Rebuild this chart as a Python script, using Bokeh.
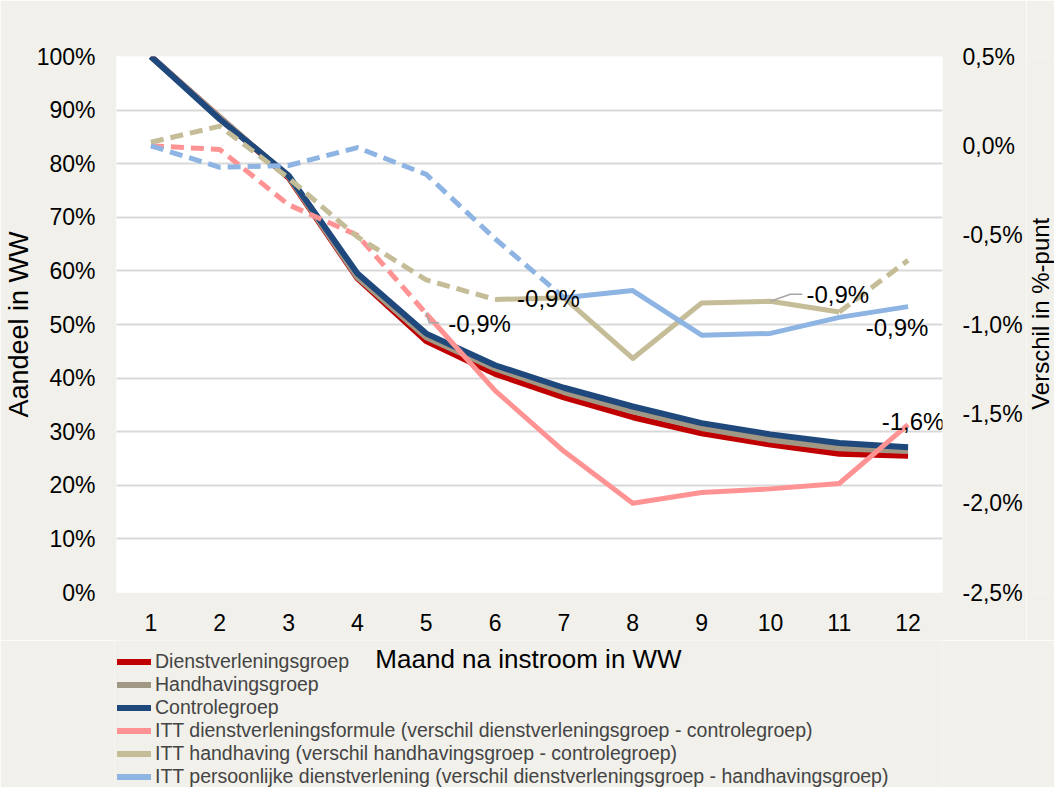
import math
from bokeh.plotting import figure
from bokeh.layouts import column, row
from bokeh.models import (Range1d, LinearAxis, FixedTicker, NumeralTickFormatter,
                          CustomJSTickFormatter, Legend, LegendItem, ColumnDataSource, Label)
from bokeh.embed import file_html
from bokeh.resources import INLINE
from bokeh.core.properties import value

# ---------------- data ----------------
months = list(range(1, 13))
dienstverleningsgroep = [1.000, 0.886, 0.774, 0.586, 0.469, 0.408, 0.364, 0.327, 0.297, 0.276, 0.259, 0.255]
handhavingsgroep      = [1.000, 0.886, 0.776, 0.588, 0.476, 0.418, 0.374, 0.338, 0.307, 0.285, 0.269, 0.264]
controlegroep         = [1.000, 0.883, 0.778, 0.595, 0.483, 0.424, 0.382, 0.347, 0.316, 0.295, 0.279, 0.271]

# verschil in %-punt (right axis)
itt_dienst  = [0.00, -0.02, -0.33, -0.50, -0.94, -1.37, -1.71, -2.00, -1.94, -1.92, -1.89, -1.56]
itt_handh   = [0.02, 0.11, -0.18, -0.51, -0.75, -0.86, -0.85, -1.19, -0.88, -0.87, -0.93, -0.64]
itt_persoon = [0.00, -0.12, -0.11, -0.01, -0.16, -0.52, -0.85, -0.81, -1.06, -1.05, -0.96, -0.90]

# month range drawn solid (rest dashed)
pink_solid = (5, 12)
tan_solid = (6, 11)
blue_solid = (7, 12)

left_ticks = [0, 0.1, 0.2, 0.3, 0.4, 0.5, 0.6, 0.7, 0.8, 0.9, 1.0]
right_ticks = [-2.5, -2.0, -1.5, -1.0, -0.5, 0.0, 0.5]

names = ["Dienstverleningsgroep", "Handhavingsgroep", "Controlegroep",
         "ITT dienstverleningsformule (verschil dienstverleningsgroep - controlegroep)",
         "ITT handhaving (verschil handhavingsgroep - controlegroep)",
         "ITT persoonlijke dienstverlening (verschil dienstverleningsgroep - handhavingsgroep)"]

x_title = "Maand na instroom in WW"
y_title = "Aandeel in WW"
y2_title = "Verschil in %-punt"

# ---------------- style ----------------
FONT = "Liberation Sans"
BG = "#F1F0EA"
RED, GRAY, NAVY = "#C00000", "#A19785", "#1F497D"
PINK, TAN, LBLUE = "#FF9393", "#C4BD97", "#8DB4E2"
colors = [RED, GRAY, NAVY, PINK, TAN, LBLUE]
DASH = "13 7"
W = 1054
W3 = 28                      # strip holding the right-axis title
BL, BT, BB = 114, 56, 48
FW, FH = 828, 536
BR = W - W3 - BL - FW
H1 = BT + FH + BB
H2 = 787 - H1

p = figure(width=W - W3, height=H1, output_backend="svg", toolbar_location=None,
           x_range=Range1d(0.5, 12.5), y_range=Range1d(0, 1),
           min_border_left=BL, min_border_right=BR, min_border_top=BT, min_border_bottom=BB)
p.extra_y_ranges = {"diff": Range1d(-2.5, 0.5)}
p.border_fill_color = BG
p.background_fill_color = "white"
p.outline_line_color = None

p.xaxis.ticker = FixedTicker(ticks=months)
p.yaxis.ticker = FixedTicker(ticks=left_ticks)
p.yaxis.formatter = NumeralTickFormatter(format="0%")
p.yaxis.axis_label = y_title
p.yaxis.axis_label_standoff = 0

rax = LinearAxis(y_range_name="diff", ticker=FixedTicker(ticks=right_ticks),
                 formatter=CustomJSTickFormatter(code="return tick.toFixed(1).replace('.', ',') + '%';"))
p.add_layout(rax, "right")

for ax in [p.xaxis[0], p.yaxis[0], rax]:
    ax.axis_line_color = None
    ax.major_tick_line_color = None
    ax.minor_tick_line_color = None
    ax.major_tick_out = 0
    ax.major_tick_in = 0
    ax.minor_tick_out = 0
    ax.minor_tick_in = 0
    ax.major_label_text_font = FONT
    ax.major_label_text_font_size = "23px"
    ax.major_label_text_color = "black"
    ax.major_label_standoff = 21
    ax.axis_label_text_font = FONT
    ax.axis_label_text_font_size = "27px"
    ax.axis_label_text_font_style = "normal"
    ax.axis_label_text_color = "black"
rax.major_label_standoff = 20

p.xgrid.grid_line_color = None
p.ygrid.grid_line_color = "#D9D9D9"
p.ygrid.grid_line_width = 2

# main series
for series, color in [(dienstverleningsgroep, RED), (handhavingsgroep, GRAY), (controlegroep, NAVY)]:
    p.line(months, series, line_color=color, line_width=6, line_join="round")


def split(series, solid):
    a, b = solid
    segs = []
    if a > 1:
        segs.append((months[:a], series[:a], True))
    segs.append((months[a - 1:b], series[a - 1:b], False))
    if b < 12:
        segs.append((months[b - 1:], series[b - 1:], True))
    return segs


for series, solid, color in [(itt_dienst, pink_solid, PINK), (itt_handh, tan_solid, TAN),
                             (itt_persoon, blue_solid, LBLUE)]:
    for xs, ys, dashed in split(series, solid):
        p.line(xs, ys, y_range_name="diff", line_color=color, line_width=5,
               line_join="round", line_dash=DASH if dashed else "solid")

# data labels (month, series, pixel offsets)
px_x = FW / 12.0
px_y = FH / 3.0
lab_idx = [5, 6, 10, 12, 12]
lab_series = [itt_dienst, itt_handh, itt_handh, itt_persoon, itt_dienst]
lab_dx = [22, 22, 36, -11, 5]
lab_dy = [10, -1, -7, 21, -3]
lab_align = ["left", "left", "left", "center", "center"]
lab_y = [s[i - 1] for i, s in zip(lab_idx, lab_series)]
lab_txt = [("%.1f%%" % v).replace(".", ",") for v in lab_y]
src = ColumnDataSource(dict(x=lab_idx, y=lab_y, t=lab_txt, dx=lab_dx, dy=lab_dy, al=lab_align))
p.text(x="x", y="y", text="t", x_offset="dx", y_offset="dy", text_align="al",
       text_baseline="middle", y_range_name="diff", source=src,
       text_font=value(FONT), text_font_size="24px", text_color="black")

# leader lines (pink month 5, tan month 10)
x5, y5 = 5, itt_dienst[4]
p.line([x5, x5 + 3 / px_x, x5 + 13 / px_x], [y5 + 1 / px_y, y5 - 9 / px_y, y5 - 9 / px_y],
       y_range_name="diff", line_color="#A6A6A6", line_width=1.5)
x10, y10 = 10, itt_handh[9]
p.line([x10, x10 + 20 / px_x, x10 + 32 / px_x], [y10, y10 + 7 / px_y, y10 + 7 / px_y],
       y_range_name="diff", line_color="#A6A6A6", line_width=1.5)

# ---------------- right strip: right-axis title ----------------
p3 = figure(width=W3, height=H1, output_backend="svg", toolbar_location=None,
            x_range=Range1d(0, W3), y_range=Range1d(0, 1),
            min_border_left=0, min_border_right=0, min_border_top=BT, min_border_bottom=BB)
p3.axis.visible = False
p3.grid.visible = False
p3.outline_line_color = None
p3.background_fill_color = BG
p3.border_fill_color = BG
p3.add_layout(Label(x=W3 / 2, y=0.52, text=y2_title, angle=math.pi / 2,
                    text_align="center", text_baseline="middle", text_font=FONT,
                    text_font_size="24px", text_color="black"))

# ---------------- bottom strip: x title + legend ----------------
p2 = figure(width=W, height=H2, output_backend="svg", toolbar_location=None,
            x_range=Range1d(BL, BL + FW), y_range=Range1d(0, H2),
            min_border_left=BL, min_border_right=W - BL - FW, min_border_top=0, min_border_bottom=0)
p2.axis.visible = False
p2.grid.visible = False
p2.outline_line_color = None
p2.background_fill_color = BG
p2.border_fill_color = BG

p2.add_layout(Label(x=528, y=H2 - 18, text=x_title, text_align="center",
                    text_baseline="middle", text_font=FONT, text_font_size="26px", text_color="black"))

items = []
for n, c in zip(names, colors):
    r = p2.line([float("nan")], [float("nan")], line_color=c, line_width=6, line_cap="round")
    items.append(LegendItem(label=n, renderers=[r]))
legend = Legend(items=items, location=(3, -1))
legend.padding = 0
legend.margin = 0
legend.spacing = 0
legend.glyph_width = 34
legend.glyph_height = 21
legend.label_height = 21
legend.label_standoff = 4
legend.label_text_font = FONT
legend.label_text_font_size = "19.5px"
legend.border_line_color = None
legend.background_fill_alpha = 0
p2.add_layout(legend)

layout = column(row(p, p3, spacing=0), p2, spacing=0)
open("out.html", "w").write(file_html(layout, INLINE))
